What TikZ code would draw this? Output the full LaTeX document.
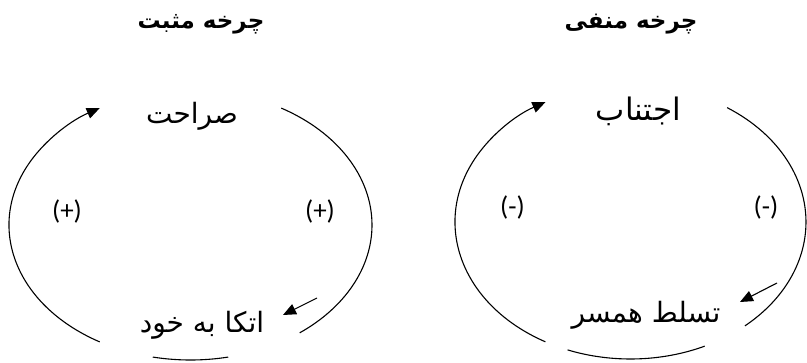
\documentclass[tikz,border=0pt]{standalone}
\usepackage{fontspec}
\setmainfont{Carlito}
\newfontfamily\fa[Script=Arabic]{DejaVu Sans}
\TeXXeTstate=1
\usetikzlibrary{arrows.meta}
\tikzset{
  loopline/.style={line width=1.1pt},
  tipped/.style={loopline,-{Triangle[length=13pt,width=11pt]}},
  lab/.style={font=\fa\fontsize{28}{32}\selectfont, anchor=base, inner sep=0pt},
  ttl/.style={font=\fa\bfseries\fontsize{23}{27}\selectfont, anchor=base, inner sep=0pt},
  sgn/.style={font=\fontsize{27}{31}\selectfont, inner sep=0pt},
}
\begin{document}
\begin{tikzpicture}[x=1pt,y=1pt]
\useasboundingbox (0,0) rectangle (807,362);
% ---------- positive cycle ----------
\coordinate (C1) at (190.5,137);
\node[ttl] (t1) at (201,333) {\beginR چرخه مثبت\endR};
\node[lab] (sar) at (192,238) {\beginR صراحت\endR};
\node[lab] (etk) at (202,30) {\beginR اتکا به خود\endR};
\node[sgn] (p1) at (67,151) {(+)};
\node[sgn] (p2) at (320,151) {(+)};
\path (C1) ++(240:181.5 and 135) coordinate (a1s);
\path (C1) ++(60:181.5 and 135) coordinate (b1s);
\path (C1) ++(258:181.5 and 135) coordinate (c1s);
\draw[tipped] (a1s) arc[start angle=240, end angle=120, x radius=181.5, y radius=135];
\draw[loopline] (b1s) arc[start angle=60, end angle=-53, x radius=181.5, y radius=135];
\draw[loopline] (c1s) arc[start angle=258, end angle=282, x radius=181.5, y radius=135];
\coordinate (s1) at (317,64);
\coordinate (e1) at (283,47);
\draw[tipped] (s1) -- (e1);
% ---------- negative cycle ----------
\coordinate (C2) at (630.5,140);
\node[ttl] (t2) at (631,333) {\beginR چرخه منفی\endR};
\node[lab] (ejt) at (638.5,241) {\fontsize{31}{35}\selectfont\beginR اجتناب\endR};
\node[lab] (tas) at (646,39) {\beginR تسلط همسر\endR};
\node[sgn] (m1) at (512.5,155) {(-)};
\node[sgn] (m2) at (766,155) {(-)};
\path (C2) ++(241:175.5 and 137) coordinate (a2s);
\path (C2) ++(56.6:175.5 and 137) coordinate (b2s);
\path (C2) ++(249:175.5 and 137) coordinate (c2s);
\draw[tipped] (a2s) arc[start angle=241, end angle=119, x radius=175.5, y radius=137];
\draw[loopline] (b2s) arc[start angle=56.6, end angle=-49.3, x radius=175.5, y radius=137];
\draw[loopline] (c2s) arc[start angle=249, end angle=295, x radius=175.5, y radius=137];
\coordinate (s2) at (777,79);
\coordinate (e2) at (740,60);
\draw[tipped] (s2) -- (e2);
\end{tikzpicture}
\end{document}
